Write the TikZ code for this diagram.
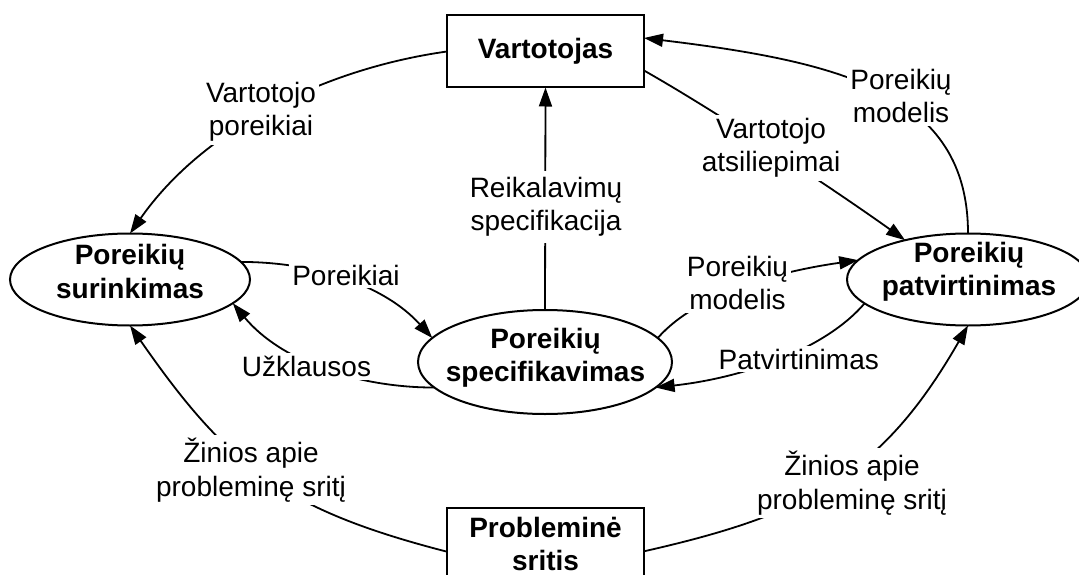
\documentclass[tikz,border=0pt]{standalone}
\usepackage{fontspec}
\setmainfont{Liberation Sans}
\usetikzlibrary{arrows.meta,shapes.geometric}
\begin{document}
\begin{tikzpicture}[x=1pt,y=-1pt,
  txt/.style={font=\fontsize{28}{33.5}\selectfont},
  boldtxt/.style={font=\bfseries\fontsize{28}{33.5}\selectfont},
  actor/.style={draw, line width=2pt, rectangle, minimum width=197pt,
    minimum height=72pt, inner sep=0pt, outer sep=0pt, fill=white,
    boldtxt, align=center},
  oval/.style={draw, line width=2pt, ellipse, inner sep=0pt, outer sep=0pt, fill=white},
  ovaltext/.style={boldtxt, align=center, inner sep=0pt},
  flow/.style={line width=1.8pt, -{Triangle[length=19pt,width=13pt]}},
  tag/.style={fill=white, inner sep=3pt, txt, align=center}
]
\useasboundingbox (0,0) rectangle (1079,575);
\clip (0,0) rectangle (1079,575);
\fill[white] (0,0) rectangle (1079,575);

% actors
\node[actor] (vart) at (545.5,51.5) {Vartotojas};
\node[actor] (prob) at (545.5,544) {Probleminė\\sritis};

% processes
\node[oval, minimum width=240pt, minimum height=92pt] (sur) at (130,279.5) {};
\node[ovaltext] (surT) at (130,271.7) {Poreikių\\surinkimas};
\node[oval, minimum width=254pt, minimum height=104pt] (spec) at (545,362) {};
\node[ovaltext] (specT) at (545.5,358) {Poreikių\\specifikavimas};
\node[oval, minimum width=242pt, minimum height=92pt] (pat) at (968,279.5) {};
\node[ovaltext] (patT) at (969,271.7) {Poreikių\\patvirtinimas};

% flows
\draw[flow] (vart.west) .. controls +(-125,17.5) and +(72,-103) .. (sur.north);
\draw[flow] (pat.north) .. controls +(0,-140) and +(198,24) .. ([yshift=13.5pt]vart.east);
\draw[flow] ([yshift=-19pt]vart.east) .. controls +(75,42.6) and +(-70,-50) .. (pat.148);
\draw[flow] (spec.north) -- (vart.south);
\draw[flow] (sur.9) .. controls +(72.5,0) and +(-48.6,-53.6) .. (spec.168);
\draw[flow] (spec.193) .. controls +(-76,0) and +(48.6,58.5) .. (sur.347);
\draw[flow] (spec.12) .. controls +(39.6,-45) and +(-79.2,11.2) .. (pat.170);
\draw[flow] (pat.193) .. controls +(-39,45.6) and +(89,-9.9) .. (spec.347);
\draw[flow] ([yshift=-7.7pt]prob.west) .. controls +(-165,-42.5) and +(97,139.4) .. (sur.south);
\draw[flow] ([yshift=-7.3pt]prob.east) .. controls +(165.8,-37.4) and +(-85,147.9) .. (pat.south);

% flow labels
\node[tag] (l1) at (261,112) {Vartotojo\\poreikiai};
\node[tag] (l2) at (901,96) {Poreikių\\modelis};
\node[tag] (l3) at (771,148) {Vartotojo\\atsiliepimai};
\node[tag, inner ysep=6pt] (l4) at (546,207) {Reikalavimų\\specifikacija};
\node[tag] (l5) at (346,275) {Poreikiai};
\node[tag] (l6) at (306.5,366.5) {Užklausos};
\node[tag] (l7) at (737.5,283) {Poreikių\\modelis};
\node[tag] (l8) at (798.7,359) {Patvirtinimas};
\node[tag] (l9) at (251,470) {Žinios apie\\probleminę sritį};
\node[tag] (l10) at (852,483) {Žinios apie\\probleminę sritį};
\end{tikzpicture}
\end{document}
